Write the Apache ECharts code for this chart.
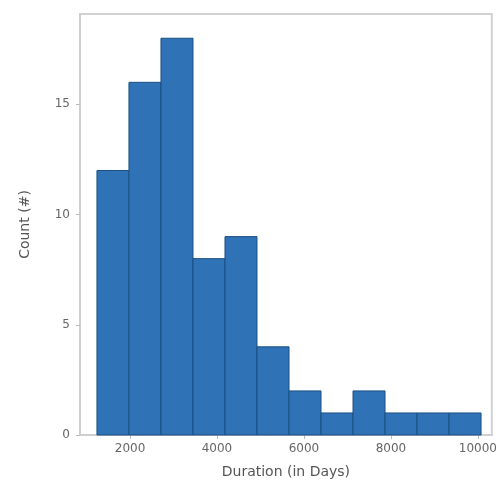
<!DOCTYPE html>
<html>
<head>
<meta charset="utf-8">
<script src="https://cdn.jsdelivr.net/npm/echarts@6/dist/echarts.min.js"></script>
<style>
  html, body { margin: 0; padding: 0; background: #fff; }
  #chart { width: 500px; height: 489px; }
</style>
</head>
<body>
<div id="chart"></div>
<script>
// bin edges (days) and counts
const binEdges = [1240, 1976, 2712, 3448, 4184, 4920, 5656, 6392, 7128, 7864, 8600, 9336, 10072]
const counts = [12, 16, 18, 8, 9, 4, 2, 1, 2, 1, 1, 1]
const xTicks = [2000, 4000, 6000, 8000, 10000]
const yTicks = [0, 5, 10, 15]

const chart = echarts.init(document.getElementById('chart'))

const bins = counts.map((c, i) => [binEdges[i], binEdges[i + 1], c])

const option = {
  animation: false,
  grid: {
    left: 80,
    right: 8,
    top: 14,
    bottom: 54,
    show: true,
    borderColor: '#d2d2d2',
    borderWidth: 2
  },
  xAxis: {
    type: 'value',
    min: 850,
    max: 10320,
    name: 'Duration (in Days)',
    nameLocation: 'middle',
    nameGap: 30,
    nameTextStyle: { fontSize: 14, color: '#555', fontFamily: 'DejaVu Sans' },
    axisLine: { show: true, lineStyle: { color: '#cfcfcf', width: 2 } },
    axisTick: { show: true, customValues: xTicks, length: 4, lineStyle: { color: '#bbb' } },
    axisLabel: {
      customValues: xTicks,
      formatter: (v) => String(v),
      fontSize: 12,
      color: '#666',
      margin: 8,
      fontFamily: 'DejaVu Sans'
    },
    splitLine: { show: false }
  },
  yAxis: {
    type: 'value',
    min: 0,
    max: 19.1,
    name: 'Count (#)',
    nameLocation: 'middle',
    nameGap: 48,
    nameTextStyle: { fontSize: 14, color: '#555', fontFamily: 'DejaVu Sans' },
    axisLine: { show: true, lineStyle: { color: '#cfcfcf', width: 2 } },
    axisTick: { show: true, customValues: yTicks, length: 4, lineStyle: { color: '#bbb' } },
    axisLabel: { customValues: yTicks, fontSize: 12, color: '#666', margin: 10, fontFamily: 'DejaVu Sans' },
    splitLine: { show: false }
  },
  series: [{
    type: 'custom',
    data: bins,
    encode: { x: [0, 1], y: 2 },
    renderItem: (params, api) => {
      const p0 = api.coord([api.value(0), 0])
      const p1 = api.coord([api.value(1), api.value(2)])
      return {
        type: 'rect',
        shape: { x: p0[0], y: p1[1], width: p1[0] - p0[0], height: p0[1] - p1[1] },
        style: { fill: '#2f72b6', stroke: '#1b4f82', lineWidth: 1 }
      }
    }
  }]
}

chart.setOption(option)
</script>
</body>
</html>
